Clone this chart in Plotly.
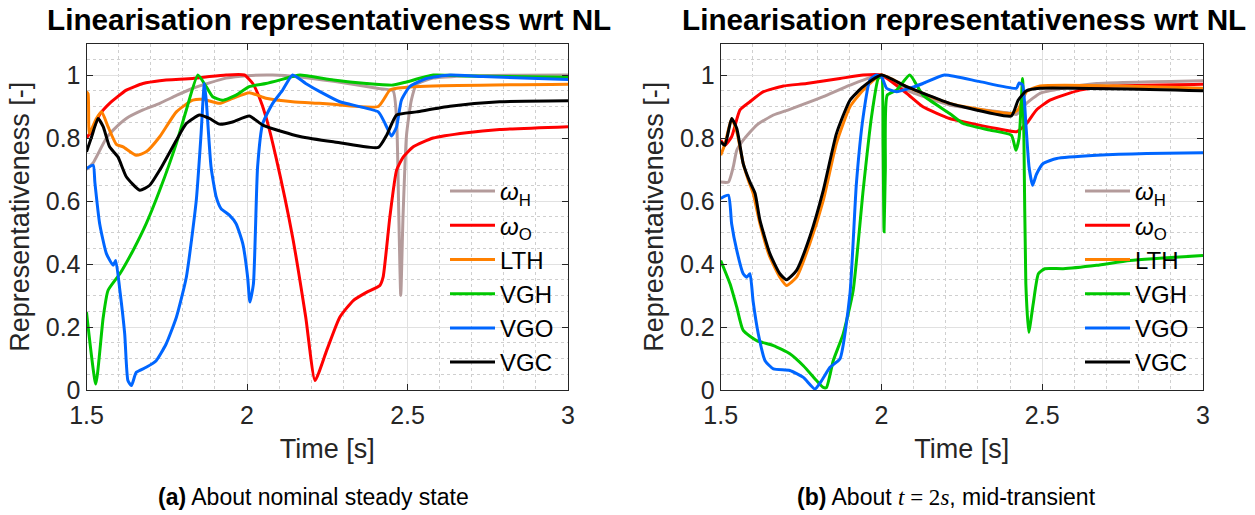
import plotly.graph_objects as go

# ---------------- data: (a) about nominal steady state ----------------
wH_a_t = [1.5, 1.52, 1.541, 1.562, 1.583, 1.624, 1.676, 1.728, 1.78, 1.831, 1.883, 1.935, 2.0, 2.08, 2.165, 2.27, 2.41, 2.455, 2.466, 2.473, 2.479, 2.486, 2.497, 2.512, 2.528, 2.58, 2.7, 3.0]
wH_a_v = [0.70, 0.72, 0.76, 0.80, 0.825, 0.862, 0.889, 0.91, 0.935, 0.958, 0.975, 0.99, 0.998, 1.0, 0.994, 0.98, 0.957, 0.95, 0.86, 0.55, 0.30, 0.55, 0.81, 0.92, 0.97, 0.99, 0.998, 1.0]

wO_a_t = [1.5, 1.521, 1.541, 1.552, 1.572, 1.624, 1.676, 1.728, 1.831, 1.883, 1.935, 1.992, 2.018, 2.038, 2.059, 2.09, 2.142, 2.183, 2.212, 2.248, 2.289, 2.331, 2.372, 2.414, 2.424, 2.445, 2.466, 2.487, 2.518, 2.58, 2.684, 2.787, 3.0]
wO_a_v = [0.80, 0.83, 0.875, 0.889, 0.91, 0.952, 0.973, 0.982, 0.989, 0.995, 1.0, 1.0, 0.973, 0.93, 0.867, 0.74, 0.486, 0.231, 0.03, 0.125, 0.231, 0.284, 0.31, 0.332, 0.358, 0.549, 0.698, 0.74, 0.772, 0.80, 0.817, 0.827, 0.836]

LTH_a_t = [1.5, 1.505, 1.509, 1.53, 1.547, 1.567, 1.593, 1.614, 1.655, 1.686, 1.728, 1.78, 1.831, 1.862, 1.914, 1.955, 2.007, 2.059, 2.142, 2.225, 2.269, 2.409, 2.445, 2.466, 2.58, 3.0]
LTH_a_v = [0.947, 0.94, 0.815, 0.86, 0.883, 0.836, 0.78, 0.772, 0.745, 0.756, 0.804, 0.883, 0.92, 0.923, 0.91, 0.926, 0.944, 0.926, 0.915, 0.91, 0.907, 0.90, 0.952, 0.958, 0.965, 0.971]

VGH_a_t = [1.5, 1.529, 1.552, 1.567, 1.604, 1.645, 1.686, 1.728, 1.78, 1.811, 1.847, 1.873, 1.893, 1.924, 1.966, 2.007, 2.059, 2.142, 2.165, 2.269, 2.372, 2.455, 2.497, 2.58, 2.684, 3.0]
VGH_a_v = [0.247, 0.019, 0.23, 0.316, 0.369, 0.443, 0.528, 0.634, 0.783, 0.889, 1.0, 0.963, 0.931, 0.92, 0.936, 0.963, 0.973, 0.995, 1.0, 0.984, 0.973, 0.968, 0.978, 1.0, 0.997, 0.993]

VGO_a_t = [1.5, 1.521, 1.526, 1.541, 1.562, 1.583, 1.591, 1.604, 1.619, 1.629, 1.64, 1.655, 1.686, 1.717, 1.748, 1.78, 1.811, 1.842, 1.857, 1.867, 1.873, 1.888, 1.904, 1.919, 1.945, 1.966, 1.987, 2.002, 2.009, 2.02, 2.033, 2.049, 2.08, 2.111, 2.142, 2.183, 2.227, 2.289, 2.409, 2.43, 2.45, 2.466, 2.481, 2.507, 2.559, 2.632, 2.735, 3.0]
VGO_a_v = [0.703, 0.714, 0.66, 0.528, 0.433, 0.396, 0.411, 0.316, 0.178, 0.03, 0.014, 0.056, 0.072, 0.093, 0.146, 0.231, 0.358, 0.602, 0.814, 0.973, 0.92, 0.708, 0.613, 0.576, 0.555, 0.528, 0.464, 0.358, 0.279, 0.337, 0.708, 0.846, 0.91, 0.952, 1.0, 0.973, 0.947, 0.915, 0.883, 0.846, 0.806, 0.836, 0.92, 0.963, 0.989, 1.0, 0.995, 0.986]

VGC_a_t = [1.5, 1.516, 1.536, 1.552, 1.572, 1.598, 1.624, 1.666, 1.697, 1.728, 1.78, 1.811, 1.852, 1.883, 1.914, 1.955, 2.007, 2.049, 2.111, 2.165, 2.269, 2.409, 2.435, 2.466, 2.528, 2.632, 2.787, 3.0]
VGC_a_v = [0.756, 0.804, 0.862, 0.836, 0.772, 0.74, 0.677, 0.634, 0.65, 0.698, 0.793, 0.846, 0.873, 0.862, 0.844, 0.851, 0.87, 0.841, 0.82, 0.805, 0.788, 0.77, 0.809, 0.873, 0.883, 0.901, 0.915, 0.918]

# ---------------- data: (b) about t = 2 s, mid-transient ----------------
wH_b_t = [1.5, 1.524, 1.539, 1.55, 1.57, 1.612, 1.664, 1.715, 1.819, 1.902, 2.0, 2.078, 2.212, 2.404, 2.42, 2.451, 2.493, 2.565, 2.669, 3.0]
wH_b_v = [0.66, 0.66, 0.708, 0.761, 0.793, 0.841, 0.873, 0.891, 0.931, 0.968, 1.0, 0.952, 0.905, 0.878, 0.875, 0.91, 0.942, 0.958, 0.973, 0.982]

wO_b_t = [1.5, 1.513, 1.534, 1.56, 1.591, 1.633, 1.695, 1.767, 1.871, 1.943, 2.0, 2.078, 2.129, 2.212, 2.254, 2.358, 2.42, 2.451, 2.482, 2.524, 2.617, 2.721, 3.0]
wO_b_v = [0.793, 0.777, 0.804, 0.889, 0.915, 0.947, 0.965, 0.973, 0.989, 1.0, 1.0, 0.942, 0.899, 0.862, 0.852, 0.83, 0.82, 0.846, 0.889, 0.92, 0.952, 0.965, 0.971]

LTH_b_t = [1.5, 1.513, 1.534, 1.55, 1.57, 1.586, 1.601, 1.622, 1.653, 1.684, 1.705, 1.736, 1.777, 1.819, 1.86, 1.902, 1.943, 2.0, 2.078, 2.212, 2.404, 2.425, 2.451, 2.493, 3.0]
LTH_b_v = [0.745, 0.78, 0.862, 0.82, 0.719, 0.666, 0.624, 0.528, 0.422, 0.358, 0.332, 0.358, 0.464, 0.602, 0.783, 0.899, 0.952, 1.0, 0.963, 0.91, 0.878, 0.89, 0.947, 0.965, 0.958]

VGH_b_t = [1.5, 1.529, 1.55, 1.57, 1.612, 1.664, 1.715, 1.757, 1.798, 1.819, 1.829, 1.85, 1.881, 1.912, 1.943, 1.969, 1.99, 2.0, 2.005, 2.008, 2.012, 2.018, 2.047, 2.088, 2.129, 2.212, 2.254, 2.337, 2.404, 2.418, 2.428, 2.439, 2.443, 2.449, 2.458, 2.472, 2.488, 2.508, 2.565, 2.669, 2.773, 3.0]
VGH_b_v = [0.411, 0.337, 0.263, 0.189, 0.157, 0.141, 0.115, 0.077, 0.03, 0.008, 0.008, 0.093, 0.178, 0.316, 0.634, 0.867, 0.989, 0.995, 0.78, 0.502, 0.70, 0.936, 0.952, 1.0, 0.936, 0.878, 0.846, 0.825, 0.809, 0.761, 0.80, 0.989, 0.80, 0.337, 0.183, 0.274, 0.369, 0.385, 0.385, 0.396, 0.411, 0.427]

VGO_b_t = [1.5, 1.524, 1.534, 1.55, 1.57, 1.581, 1.591, 1.601, 1.617, 1.638, 1.664, 1.715, 1.757, 1.793, 1.814, 1.84, 1.871, 1.902, 1.922, 1.943, 1.964, 1.984, 2.0, 2.016, 2.047, 2.088, 2.129, 2.196, 2.306, 2.42, 2.428, 2.439, 2.449, 2.459, 2.47, 2.482, 2.503, 2.545, 2.669, 2.825, 3.0]
VGO_b_v = [0.608, 0.618, 0.528, 0.443, 0.369, 0.358, 0.369, 0.28, 0.178, 0.093, 0.067, 0.062, 0.04, 0.003, 0.03, 0.072, 0.099, 0.305, 0.655, 0.867, 0.984, 1.0, 0.995, 0.958, 0.947, 0.958, 0.973, 1.0, 0.979, 0.958, 0.975, 0.968, 0.846, 0.708, 0.65, 0.685, 0.719, 0.735, 0.745, 0.751, 0.753]

VGC_b_t = [1.5, 1.513, 1.534, 1.55, 1.57, 1.591, 1.607, 1.622, 1.653, 1.684, 1.705, 1.736, 1.777, 1.819, 1.86, 1.902, 1.943, 2.0, 2.078, 2.212, 2.254, 2.404, 2.425, 2.451, 2.493, 3.0]
VGC_b_v = [0.788, 0.777, 0.862, 0.83, 0.719, 0.66, 0.624, 0.539, 0.433, 0.369, 0.35, 0.38, 0.486, 0.634, 0.814, 0.92, 0.963, 1.0, 0.963, 0.91, 0.899, 0.87, 0.92, 0.95, 0.958, 0.95]

series_names = ["<i>ω</i><sub>H</sub>", "<i>ω</i><sub>O</sub>", "LTH", "VGH", "VGO", "VGC"]
series_colors = ["#B49B9B", "#FF0000", "#FF8000", "#00C800", "#0066FF", "#000000"]

x_ticks = [1.5, 2, 2.5, 3]
x_tick_text = ["1.5", "2", "2.5", "3"]
y_ticks = [0, 0.2, 0.4, 0.6, 0.8, 1]
y_tick_text = ["0", "0.2", "0.4", "0.6", "0.8", "1"]

title_text = "Linearisation representativeness wrt NL"
caption_a = "<b>(a)</b> About nominal steady state"
caption_b = ("<b>(b)</b> About <span style=\"font-family:'Liberation Serif'\"><i>t</i> = 2<i>s</i></span>, mid-transient")

panel_a = [(wH_a_t, wH_a_v), (wO_a_t, wO_a_v), (LTH_a_t, LTH_a_v), (VGH_a_t, VGH_a_v), (VGO_a_t, VGO_a_v), (VGC_a_t, VGC_a_v)]
panel_b = [(wH_b_t, wH_b_v), (wO_b_t, wO_b_v), (LTH_b_t, LTH_b_v), (VGH_b_t, VGH_b_v), (VGO_b_t, VGO_b_v), (VGC_b_t, VGC_b_v)]

FONT = "Liberation Sans, Arial, Helvetica, sans-serif"
W, H = 1255, 515

fig = go.Figure()
for (t, v), name, col in zip(panel_a, series_names, series_colors):
    fig.add_trace(go.Scatter(x=t, y=v, mode="lines", name=name,
                             line=dict(color=col, width=3, shape="spline", smoothing=0.5),
                             xaxis="x", yaxis="y", legend="legend"))
for (t, v), name, col in zip(panel_b, series_names, series_colors):
    fig.add_trace(go.Scatter(x=t, y=v, mode="lines", name=name,
                             line=dict(color=col, width=3, shape="spline", smoothing=0.5),
                             xaxis="x2", yaxis="y2", legend="legend2"))

def xax(dom, anchor):
    return dict(domain=dom, anchor=anchor, range=[1.5, 3], tickvals=x_ticks, ticktext=x_tick_text,
                automargin=False,
                showline=True, linecolor="#262626", linewidth=1, mirror="ticks",
                ticks="inside", ticklen=6, tickcolor="#262626", ticklabelstandoff=3,
                tickfont=dict(size=25, color="#262626", family=FONT),
                showgrid=True, gridcolor="#E1E1E1", gridwidth=1, zeroline=False,
                minor=dict(tick0=1.5, dtick=0.1, showgrid=True, gridcolor="#CFCFCF", griddash="dot", gridwidth=1),
                title=dict(text="Time [s]", font=dict(size=27, color="#262626", family=FONT), standoff=11))

def yax(dom, anchor):
    return dict(domain=dom, anchor=anchor, range=[0, 1.1], tickvals=y_ticks, ticktext=y_tick_text,
                automargin=False,
                showline=True, linecolor="#262626", linewidth=1, mirror="ticks",
                ticks="inside", ticklen=6, tickcolor="#262626",
                tickfont=dict(size=25, color="#262626", family=FONT),
                showgrid=True, gridcolor="#E1E1E1", gridwidth=1, zeroline=False,
                minor=dict(tick0=0, dtick=0.05, showgrid=True, gridcolor="#CFCFCF", griddash="dot", gridwidth=1),
                title=dict(text="Representativeness [-]", font=dict(size=27, color="#262626", family=FONT), standoff=8))

ydom = [1 - 390 / H, 1 - 43.5 / H]
leg_common = dict(yanchor="top", xanchor="left", bgcolor="rgba(0,0,0,0)", borderwidth=0,
                  font=dict(size=24, color="#000000", family=FONT), itemwidth=45, tracegroupgap=0)

fig.update_layout(
    width=W, height=H, margin=dict(l=0, r=0, t=0, b=0),
    paper_bgcolor="white", plot_bgcolor="white",
    font=dict(family=FONT, color="#000000"),
    xaxis=xax([86.5 / W, 568 / W], "y"),
    yaxis=yax(ydom, "x"),
    xaxis2=xax([720.7 / W, 1203 / W], "y2"),
    yaxis2=yax(ydom, "x2"),
    legend=dict(x=445 / W, y=1 - 169 / H, **leg_common),
    legend2=dict(x=1080 / W, y=1 - 169 / H, **leg_common),
    annotations=[
        dict(text="<b>" + title_text + "</b>", x=329 / W, y=1 - 20 / H, xref="paper", yref="paper",
             showarrow=False, font=dict(size=29.7, color="#000000", family=FONT), xanchor="center", yanchor="middle"),
        dict(text="<b>" + title_text + "</b>", x=964 / W, y=1 - 20 / H, xref="paper", yref="paper",
             showarrow=False, font=dict(size=29.7, color="#000000", family=FONT), xanchor="center", yanchor="middle"),
        dict(text=caption_a, x=313 / W, y=1 - 497 / H, xref="paper", yref="paper",
             showarrow=False, font=dict(size=23, color="#000000", family=FONT), xanchor="center", yanchor="middle"),
        dict(text=caption_b, x=946 / W, y=1 - 497 / H, xref="paper", yref="paper",
             showarrow=False, font=dict(size=23, color="#000000", family=FONT), xanchor="center", yanchor="middle"),
    ],
)

fig.write_html("out.html", config={"displayModeBar": False},
               post_script="document.body.style.margin='0px';document.body.style.overflow='hidden';")
